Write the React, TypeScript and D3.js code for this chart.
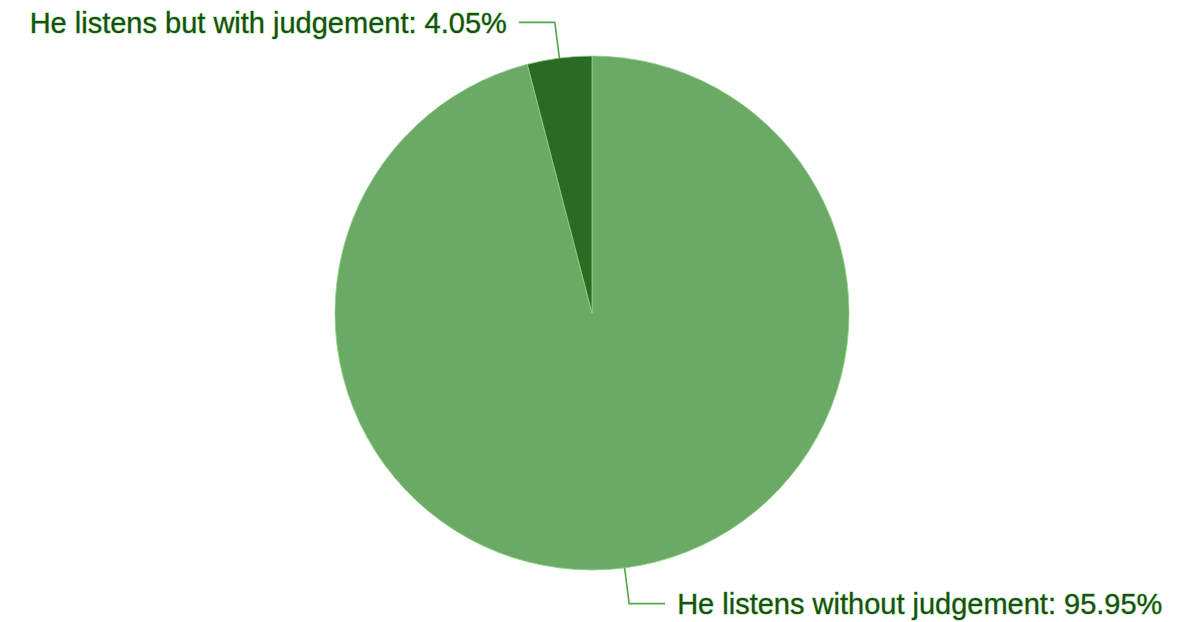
import * as d3 from 'd3'

const WIDTH = 1200
const HEIGHT = 622

const labels = ['He listens without judgement', 'He listens but with judgement']
const values = [95.95, 4.05]
const colors = ['#6aaa64', '#2b6a24']

const CX = 592
const CY = 313
const RADIUS = 257
const ELBOW_R = 293
const LEG = 36
const GAP = 12

type Slice = d3.PieArcDatum<number>

export default function App() {
  const pie = d3
    .pie<number>()
    .sort(null)
    .value((d) => d)
  const arcs = pie(values)
  const arc = d3.arc<Slice>().innerRadius(0).outerRadius(RADIUS)

  const leaders = arcs.map((a, i) => {
    const mid = (a.startAngle + a.endAngle) / 2
    const sx = CX + RADIUS * Math.sin(mid)
    const sy = CY - RADIUS * Math.cos(mid)
    const ex = CX + ELBOW_R * Math.sin(mid)
    const ey = CY - ELBOW_R * Math.cos(mid)
    const right = Math.sin(mid) >= 0
    const hx = ex + (right ? LEG : -LEG)
    const tx = hx + (right ? GAP : -GAP)
    return {
      path: d3.line()([
        [sx, sy],
        [ex, ey],
        [hx, ey],
      ]),
      tx,
      ty: ey,
      anchor: right ? 'start' : 'end',
      text: `${labels[i]}: ${values[i].toFixed(2)}%`,
    }
  })

  return (
    <svg
      width={WIDTH}
      height={HEIGHT}
      style={{ position: 'absolute', left: 0, top: 0 }}
      fontFamily="'Liberation Sans', Arial, sans-serif"
    >
      <rect width={WIDTH} height={HEIGHT} fill="#fff" />
      <g transform={`translate(${CX},${CY})`}>
        {arcs.map((a, i) => (
          <path key={i} d={arc(a) ?? ''} fill={colors[i]} stroke="#8fd487" strokeWidth={0.8} />
        ))}
      </g>
      {leaders.map((l, i) => (
        <g key={i}>
          <path d={l.path ?? ''} fill="none" stroke="#4fa845" strokeWidth={1.6} />
          <text
            x={l.tx}
            y={l.ty}
            dy="0.35em"
            textAnchor={l.anchor}
            fontSize={29}
            fill="#1a4f13"
            stroke="#8fdc86"
            strokeWidth={1}
            paintOrder="stroke"
          >
            {l.text}
          </text>
        </g>
      ))}
    </svg>
  )
}
